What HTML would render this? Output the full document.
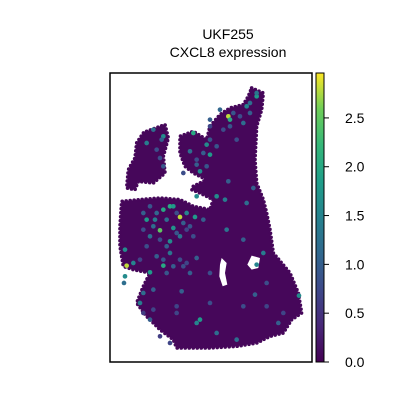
<!DOCTYPE html>
<html><head><meta charset="utf-8"><style>
body{margin:0;background:#fff;}
svg text{font-family:"Liberation Sans","DejaVu Sans",sans-serif;}
</style></head><body>
<svg id="chart" width="400" height="400">
<defs>
<linearGradient id="vir" x1="0" y1="1" x2="0" y2="0">
<stop offset="0" stop-color="#440154"/><stop offset="0.125" stop-color="#482878"/><stop offset="0.25" stop-color="#3e4989"/><stop offset="0.375" stop-color="#31688e"/><stop offset="0.5" stop-color="#26828e"/><stop offset="0.625" stop-color="#1f9e89"/><stop offset="0.75" stop-color="#35b779"/><stop offset="0.875" stop-color="#6ece58"/><stop offset="1" stop-color="#fde725"/>
</linearGradient>
</defs>
<text x="228" y="39" font-size="14" text-anchor="middle">UKF255</text>
<text x="228" y="57" font-size="14" text-anchor="middle">CXCL8 expression</text>
<g id="tissue" transform="translate(110,73) scale(0.3333)">
<g fill="#46075a" stroke="#46075a" stroke-width="11" stroke-dasharray="0 12" stroke-linecap="round">
<polygon points="110,175 165,155 175,195 160,250 165,300 130,330 85,325 75,350 50,345 55,290 75,255 80,210 100,180"/>
<polygon points="425,45 460,60 455,110 440,160 435,260 440,330 460,380 470,420 480,470 490,540 540,600 565,660 575,720 545,740 520,780 480,790 440,810 380,820 300,825 200,825 190,800 150,770 110,730 80,690 100,640 120,600 70,590 40,580 30,520 30,460 35,385 90,380 150,375 210,380 250,400 300,410 310,380 270,360 245,350 250,340 290,320 250,300 225,280 210,240 210,190 250,175 290,200 300,160 330,125 360,105 400,95 415,70"/>
</g>
<polygon fill="#fff" points="335,555 350,570 345,600 352,635 338,640 328,610 330,575"/>
<polygon fill="#fff" points="425,548 450,555 445,585 425,590 412,575"/>
<g id="spots"></g>
</g>
<rect x="110" y="73" width="202" height="289" fill="none" stroke="#000" stroke-width="1.5"/>
<rect x="316" y="73" width="8" height="289" fill="url(#vir)" stroke="#000" stroke-width="1"/>
<g id="cbticks"></g>
</svg>
<script>
const spotX=[355,440,410,360,400,300,250,290,300,270,240,260,160,110,155,130,150,160,180,210,150,110,190,135,170,255,230,190,280,210,180,120,50,45,70,160,120,45,42,100,90,120,270,260,215,320,380,460,440,350,410,345,320,260,430,355,567,505,435,400,240,130,180,260,300,470,400,300,200,150,
100,120,140,200,220,240,130,150,170,200,230,250,110,140,160,210,90,100,170,190,220,230,330,370,390,420,320,380,280,300,340,360,260,290,140,160,420,440,300,220,200,130,100,470,520,180];
const spotY=[130,70,100,140,150,140,180,215,245,295,235,275,190,210,200,170,255,410,400,432,472,440,465,440,440,432,420,400,440,490,505,490,578,530,570,578,598,610,630,660,690,740,740,750,655,780,800,540,575,470,390,380,370,370,345,325,668,750,665,500,600,650,540,555,600,630,700,690,720,790,
420,400,420,420,450,460,460,500,520,480,470,490,520,550,560,560,560,470,600,580,580,570,110,120,130,90,220,200,240,200,170,160,260,280,230,280,120,60,160,300,700,710,720,700,720,810];
const spotValues=[2.8,1.8,1.5,2.0,1.2,1.0,2.0,1.6,1.8,1.6,1.2,1.0,1.6,1.4,1.0,1.2,0.8,2.0,2.0,2.8,2.5,1.8,1.7,1.4,1.2,1.8,1.5,1.8,1.0,1.3,1.6,1.2,2.8,1.6,1.5,2.0,1.8,1.6,1.2,1.2,1.4,1.0,1.8,1.5,1.0,1.2,1.2,1.4,1.5,1.3,1.2,1.4,1.6,1.6,1.0,1.0,1.6,1.0,1.0,1.0,1.0,1.0,1.3,1.0,0.8,0.8,0.8,0.8,0.7,0.6,
1.0,0.9,1.1,0.8,1.0,0.9,1.2,0.8,1.0,0.9,0.7,0.8,0.8,1.0,0.9,0.8,0.7,0.8,0.9,1.0,0.8,0.7,1.1,0.9,0.8,1.2,0.9,0.8,1.0,0.9,0.8,0.9,0.8,0.9,0.8,0.9,1.0,1.3,0.7,0.8,0.7,0.7,0.6,0.7,0.7,0.7];
const tickValues=[0.0,0.5,1.0,1.5,2.0,2.5];
const tickLabels=["0.0","0.5","1.0","1.5","2.0","2.5"];
const vmax=2.96;
const stops=[[68,1,84],[72,40,120],[62,73,137],[49,104,142],[38,130,142],[31,158,137],[53,183,121],[110,206,88],[253,231,37]];
function viridis(v){let t=Math.max(0,Math.min(1,v/vmax))*8;let i=Math.min(7,Math.floor(t));let f=t-i;
const a=stops[i],b=stops[i+1];return `rgb(${a.map((c,k)=>Math.round(c+(b[k]-c)*f)).join(',')})`;}
function cy(v){return 362-v*(289/vmax);}
const ns="http://www.w3.org/2000/svg";
const g=document.getElementById('spots');
for(let i=0;i<spotValues.length;i++){
const c=document.createElementNS(ns,'circle');
c.setAttribute('cx',spotX[i]);c.setAttribute('cy',spotY[i]);c.setAttribute('r',7);
c.setAttribute('fill',viridis(spotValues[i]));


g.appendChild(c);}
const tg=document.getElementById('cbticks');
tickValues.forEach((v,i)=>{
const l=document.createElementNS(ns,'line');
l.setAttribute('x1',324);l.setAttribute('x2',329);l.setAttribute('y1',cy(v));l.setAttribute('y2',cy(v));l.setAttribute('stroke','#000');


tg.appendChild(l);
const t=document.createElementNS(ns,'text');
t.setAttribute('x',345);t.setAttribute('y',cy(v)+5);t.setAttribute('font-size','14');
t.textContent=tickLabels[i];


tg.appendChild(t);});
</script>
</body></html>
